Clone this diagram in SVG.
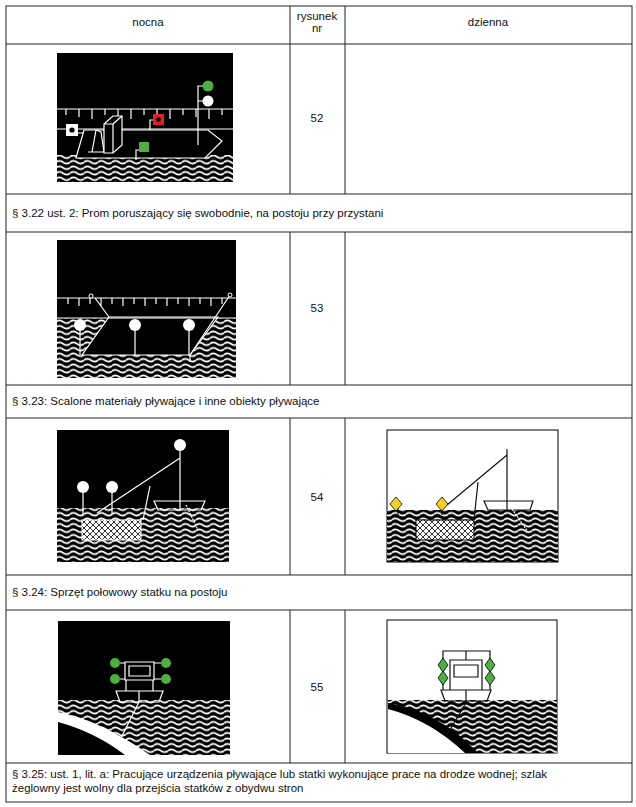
<svg xmlns="http://www.w3.org/2000/svg" width="636" height="807" viewBox="0 0 636 807">
<style>
text{font-family:"Liberation Sans",Arial,sans-serif;font-size:11.5px;fill:#111}
.grid{stroke:#222;stroke-width:1;fill:none}
.w{stroke:#fff;stroke-width:1.2;fill:none}
.k{stroke:#111;stroke-width:1.2;fill:none}
</style>
<defs>
<pattern id="wave" width="14" height="5.5" patternUnits="userSpaceOnUse">
<rect width="14" height="5.5" fill="#000"/>
<path d="M0 2.75 Q3.5 0 7 2.75 T14 2.75" stroke="#fff" stroke-width="2" fill="none"/>
</pattern>
<pattern id="hatch" width="6" height="6" patternUnits="userSpaceOnUse">
<rect width="6" height="6" fill="#fff"/>
<path d="M0 0L6 6M6 0L0 6" stroke="#000" stroke-width="0.8"/>
</pattern>
</defs>
<g id="table">
<rect class="grid" x="6" y="6" width="626" height="796"/>
<path class="grid" d="M290 6V194M345 6V194M6 44H632M6 194H632M6 232H632M290 232V385M345 232V385M6 385H632M6 418H632M290 418V575M345 418V575M6 575H632M6 610H632M290 610V763M345 610V763M6 763H632"/>
<text x="148" y="26" text-anchor="middle">nocna</text>
<text x="317" y="20" text-anchor="middle">rysunek</text>
<text x="317" y="32" text-anchor="middle">nr</text>
<text x="488" y="26" text-anchor="middle">dzienna</text>
<text x="317" y="122" text-anchor="middle">52</text>
<text x="317" y="312" text-anchor="middle">53</text>
<text x="317" y="501" text-anchor="middle">54</text>
<text x="317" y="691" text-anchor="middle">55</text>
<text x="12" y="217">§ 3.22 ust. 2: Prom poruszający się swobodnie, na postoju przy przystani</text>
<text x="12" y="405">§ 3.23: Scalone materiały pływające i inne obiekty pływające</text>
<text x="12" y="596">§ 3.24: Sprzęt połowowy statku na postoju</text>
<text x="12" y="778">§ 3.25: ust. 1, lit. a: Pracujące urządzenia pływające lub statki wykonujące prace na drodze wodnej; szlak</text>
<text x="12" y="792">żeglowny jest wolny dla przejścia statków z obydwu stron</text>
</g>
<g id="fig52">
<rect x="57" y="53" width="176" height="129" fill="#000"/>
<rect x="57" y="155" width="176" height="27" fill="url(#wave)"/>
<path class="w" d="M57 109H233M57 129H233M66 109v6M79 109v8M92 109v10M105 109v6M118 109v8M131 109v10M144 109v6M157 109v8M170 109v10M183 109v6M196 109v8M209 109v10M222 109v6"/>
<path d="M76 158H205L222 141L208 130H84Z" fill="#000" stroke="#fff" stroke-width="1.2"/>
<path class="w" d="M92 152L96 130L101 132L104 152M88 152H110"/>
<path d="M104 124L113 116H122V145L113 153H104Z" fill="#000" stroke="#fff" stroke-width="1.2"/>
<path class="w" d="M104 124H113V153M113 124L122 116"/>
<path class="w" d="M198 145V86H206M198 101H206M150 130V120H155M136 160V150H140M78 133H84"/>
<circle cx="208" cy="86" r="5.5" fill="#4caf3f"/>
<circle cx="208" cy="101" r="5.5" fill="#fff"/>
<rect x="153" y="114" width="11" height="11" fill="#e02020"/>
<circle cx="158.5" cy="119.5" r="2.3" fill="#000"/>
<rect x="139" y="142" width="10" height="10" fill="#4caf3f"/>
<rect x="66" y="124" width="12" height="12" fill="#fff"/>
<circle cx="72" cy="130" r="2.6" fill="#000"/>
</g>
<g id="fig53">
<rect x="57" y="240" width="179" height="138" fill="#000"/>
<rect x="57" y="318" width="179" height="60" fill="url(#wave)"/>
<path d="M109 317H218L190 355H82Z" fill="#000" stroke="#fff" stroke-width="1.2"/>
<path class="w" d="M57 298H236M57 318H236M68 298v6M79 298v8M90 298v6M101 298v8M112 298v6M123 298v8M134 298v6M145 298v8M156 298v6M167 298v8M178 298v6M189 298v8M200 298v6M211 298v8M222 298v6M95 298L109 317M230 295L190 355M190 355V362"/>
<circle cx="91" cy="296" r="2" fill="#000" stroke="#fff"/>
<circle cx="230" cy="295" r="2" fill="#000" stroke="#fff"/>
<path class="w" d="M80 325V355M135 325V355M189 325V355"/>
<circle cx="80" cy="325" r="6" fill="#fff"/>
<circle cx="135" cy="325" r="6" fill="#fff"/>
<circle cx="189" cy="325" r="6" fill="#fff"/>
</g>
<g id="fig54n">
<rect x="57" y="430" width="172" height="132" fill="#000"/>
<rect x="57" y="508" width="172" height="54" fill="url(#wave)"/>
<rect x="82" y="520" width="59" height="20" fill="url(#hatch)" stroke="#fff"/>
<path class="w" d="M83 487V515M112 487V515M180 451V510M180 458L97 513M150 486L143 520M154 501H205L201 510H158Z"/>
<path class="w" d="M186 505L198 530" stroke-dasharray="2 1"/>
<circle cx="83" cy="487" r="6" fill="#fff"/>
<circle cx="112" cy="487" r="6" fill="#fff"/>
<circle cx="180" cy="445" r="6" fill="#fff"/>
</g>
<g id="fig54d">
<rect x="387" y="430" width="171" height="132" fill="#fff" stroke="#000"/>
<rect x="387" y="510" width="171" height="52" fill="url(#wave)"/>
<rect x="416" y="520" width="58" height="20" fill="url(#hatch)" stroke="#000"/>
<path class="k" d="M507 449V510M507 455L447 505M478 482L474 520M398 508V515M442 508V515M484 501H533L530 510H488Z"/>
<path class="w" d="M512 509L528 532" stroke="#000" stroke-dasharray="2 1"/>
<path d="M396 497L402 504L396 511L390 504Z" fill="#f2d21e" stroke="#000" stroke-width="0.8"/>
<path d="M442 497L448 504L442 511L436 504Z" fill="#f2d21e" stroke="#000" stroke-width="0.8"/>
</g>
<g id="fig55n">
<rect x="58" y="621" width="172" height="134" fill="#000"/>
<rect x="58" y="700" width="172" height="55" fill="url(#wave)"/>
<path d="M58 712Q100 720 150 755H58Z" fill="#fff"/>
<path d="M58 722Q95 732 125 755H58Z" fill="#000"/>
<path class="w" d="M125 662H154V680H125ZM129 666H150V676H129ZM126 680V691M153 680V691M120 663H125M154 663H161M120 679H125M154 679H161M116 691H163L159 702H120ZM139 691V702M139 702L120 740"/>
<circle cx="115" cy="663" r="5" fill="#4caf3f"/>
<circle cx="115" cy="679" r="5" fill="#4caf3f"/>
<circle cx="166" cy="663" r="5" fill="#4caf3f"/>
<circle cx="166" cy="679" r="5" fill="#4caf3f"/>
</g>
<g id="fig55d">
<rect x="387" y="620" width="170" height="133" fill="#fff" stroke="#000"/>
<rect x="388" y="700" width="169" height="53" fill="url(#wave)"/>
<path d="M388 703Q440 712 478 753H388Z" fill="#000"/>
<path d="M388 709Q430 720 465 753H388Z" fill="#fff"/>
<path class="k" d="M443 651H490V690H443ZM450 660H482V690H450ZM454 665H478V677H454ZM466 651V660M441 690H491L487 701H445ZM466 690V701M467 701L447 735"/>
<path d="M443 658L448 665L443 672L438 665ZM443 671L448 678L443 685L438 678ZM490 658L495 665L490 672L485 665ZM490 671L495 678L490 685L485 678Z" fill="#4caf3f" stroke="#000" stroke-width="0.8"/>
</g>
</svg>
